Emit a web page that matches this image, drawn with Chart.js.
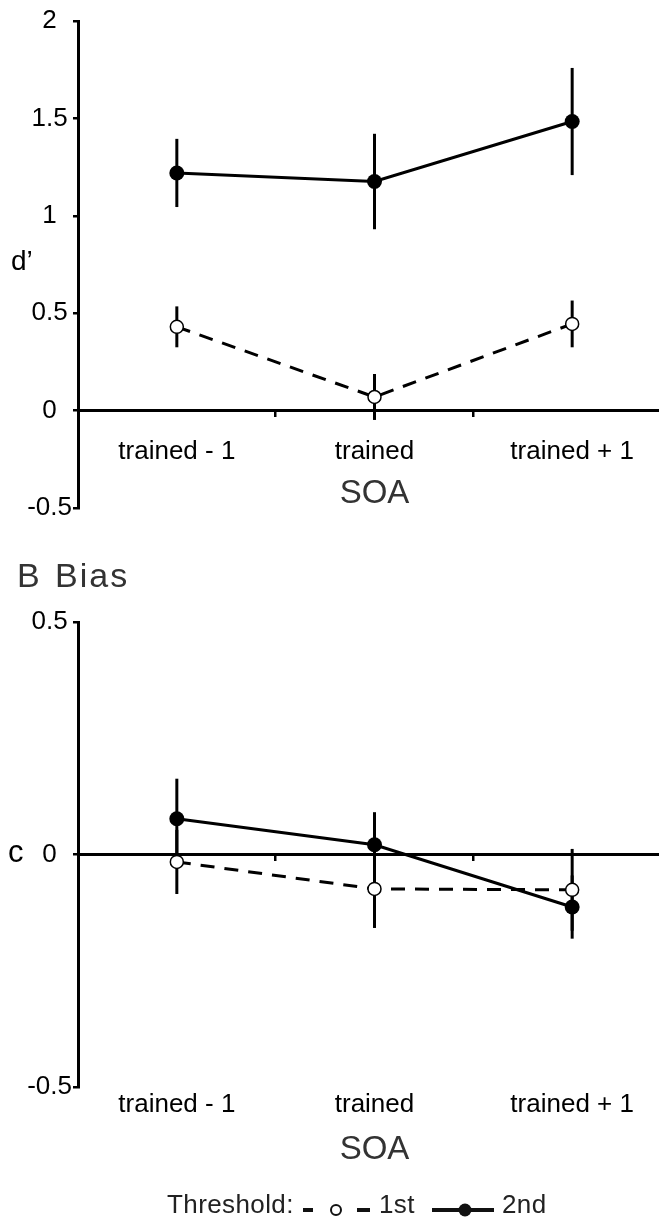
<!DOCTYPE html>
<html>
<head>
<meta charset="utf-8">
<script src="https://cdn.jsdelivr.net/npm/chart.js@4"></script>
<style>
  html, body { margin: 0; padding: 0; background: #fff; overflow: hidden; width: 659px; height: 1223px; }
  .wrap { position: relative; width: 659px; height: 1223px; overflow: hidden; }
  canvas { position: absolute; left: 0; }
  .lbl { position: absolute; font-family: "Liberation Sans", Arial, sans-serif; color: #000; white-space: nowrap; line-height: 1; }
</style>
</head>
<body>
<div class="wrap">
  <canvas id="chartA" width="680" height="540" style="top:0px"></canvas>
  <canvas id="chartB" width="680" height="663" style="top:560px"></canvas>

  <div class="lbl" style="left:11px; top:247px; font-size:28px;">d’</div>
  <div class="lbl" style="left:17px; top:558px; font-size:34px; color:#333; letter-spacing:2px;">B</div>
  <div class="lbl" style="left:55px; top:558px; font-size:34px; color:#333; letter-spacing:2px;">Bias</div>
  <div class="lbl" style="left:8px; top:836px; font-size:31px;">c</div>

  <!-- legend -->
  <div class="lbl" style="left:167px; top:1191px; font-size:26px; color:#222; letter-spacing:0.4px;">Threshold:</div>
  <div class="lbl" style="left:379px; top:1191px; font-size:26px; color:#222; letter-spacing:0.4px;">1st</div>
  <div class="lbl" style="left:502px; top:1191px; font-size:26px; color:#222; letter-spacing:0.4px;">2nd</div>
  <svg style="position:absolute; left:0; top:1195px;" width="659" height="28">
    <line x1="303" y1="15" x2="313" y2="15" stroke="#111" stroke-width="4"/>
    <circle cx="336" cy="15" r="5" fill="#fff" stroke="#111" stroke-width="2"/>
    <line x1="357" y1="15" x2="370" y2="15" stroke="#111" stroke-width="4"/>
    <line x1="432" y1="15" x2="494" y2="15" stroke="#111" stroke-width="4"/>
    <circle cx="465" cy="15" r="6.5" fill="#111"/>
  </svg>
</div>

<script>
// SOA conditions on the x axis
const categories = ['trained - 1', 'trained', 'trained + 1'];

// A: sensitivity d' (mean and error half-length) per threshold
const dPrimeFirst = [0.43, 0.07, 0.445];
const dPrimeFirstErr = [0.105, 0.118, 0.12];
const dPrimeSecond = [1.22, 1.176, 1.484];
const dPrimeSecondErr = [0.175, 0.245, 0.275];

// B: response bias c (mean and error half-length) per threshold
const biasFirst = [-0.016, -0.074, -0.076];
const biasFirstErr = [0.069, 0.084, 0.088];
const biasSecond = [0.077, 0.021, -0.113];
const biasSecondErr = [0.086, 0.07, 0.068];

// y tick values
const dPrimeTicks = [-0.5, 0, 0.5, 1, 1.5, 2];
const biasTicks = [-0.5, 0, 0.5];

const thresholdNames = ['1st', '2nd'];

const FONT = '"Liberation Sans", Arial, sans-serif';

// vertical error bars, drawn under the lines and markers
const errorBars = {
  id: 'errorBars',
  beforeDatasetsDraw(chart) {
    const { ctx } = chart;
    const y = chart.scales.y;
    ctx.save();
    ctx.strokeStyle = '#000';
    ctx.lineWidth = 3;
    ctx.lineCap = 'butt';
    chart.data.datasets.forEach((ds, i) => {
      const meta = chart.getDatasetMeta(i);
      meta.data.forEach((pt, j) => {
        const v = ds.data[j];
        const e = ds.errors[j];
        ctx.beginPath();
        ctx.moveTo(pt.x, y.getPixelForValue(v + e));
        ctx.lineTo(pt.x, y.getPixelForValue(v - e));
        ctx.stroke();
      });
    });
    ctx.restore();
  }
};

function firstSeries(values, errors) {
  return {
    label: thresholdNames[0],
    data: values,
    errors: errors,
    borderColor: '#000',
    borderWidth: 3,
    borderDash: [14, 10],
    pointRadius: 6.5,
    pointBackgroundColor: '#fff',
    pointBorderColor: '#000',
    pointBorderWidth: 1.5,
    tension: 0
  };
}

function secondSeries(values, errors) {
  return {
    label: thresholdNames[1],
    data: values,
    errors: errors,
    borderColor: '#000',
    borderWidth: 3,
    pointRadius: 7.5,
    pointBackgroundColor: '#000',
    pointBorderColor: '#000',
    pointBorderWidth: 0,
    tension: 0
  };
}

function yScale(min, max, ticks, size) {
  return {
    type: 'linear',
    position: 'left',
    min: min,
    max: max,
    afterBuildTicks: s => { s.ticks = ticks.map(v => ({ value: v })); },
    afterFit: s => { s.width = 78; },
    border: { display: true, color: '#000', width: 3 },
    grid: { display: true, drawOnChartArea: false, drawTicks: true, tickLength: 5, color: '#000', lineWidth: 2.5 },
    ticks: { color: '#000', font: { family: FONT, size: size }, padding: 1, crossAlign: 'center', callback: v => String(v) }
  };
}

const xTickFont = { family: FONT, size: 26 };
function xTitle(padTop) {
  return { display: true, text: 'SOA', color: '#333', font: { family: FONT, size: 33 }, padding: { top: padTop, bottom: 0 } };
}

const common = {
  responsive: false,
  animation: false,
  events: [],
  plugins: { legend: { display: false }, tooltip: { enabled: false } }
};

// A: sensitivity
new Chart(document.getElementById('chartA'), {
  type: 'line',
  data: {
    labels: categories,
    datasets: [firstSeries(dPrimeFirst, dPrimeFirstErr), secondSeries(dPrimeSecond, dPrimeSecondErr)]
  },
  options: Object.assign({}, common, {
    layout: { padding: { top: 21, bottom: 32, left: 0, right: 9 } },
    scales: {
      x: {
        type: 'category',
        position: { y: 0 },
        offset: true,
        border: { display: true, color: '#000', width: 3 },
        grid: { offset: true, drawOnChartArea: false, drawTicks: true, tickLength: 5, color: '#000', lineWidth: 2.5 },
        ticks: { color: '#000', font: xTickFont, padding: 21, maxRotation: 0, autoSkip: false },
        title: xTitle(-15)
      },
      y: yScale(-0.5, 2, dPrimeTicks, 26)
    }
  }),
  plugins: [errorBars]
});

// B: bias
new Chart(document.getElementById('chartB'), {
  type: 'line',
  data: {
    labels: categories,
    datasets: [firstSeries(biasFirst, biasFirstErr), secondSeries(biasSecond, biasSecondErr)]
  },
  options: Object.assign({}, common, {
    layout: { padding: { top: 62, bottom: 136, left: 0, right: 9 } },
    scales: {
      x: {
        type: 'category',
        position: { y: -0.5 },
        offset: true,
        border: { display: false },
        grid: { display: false, drawTicks: false },
        ticks: { color: '#000', font: xTickFont, padding: 2, maxRotation: 0, autoSkip: false },
        title: xTitle(8)
      },
      x2: {
        type: 'category',
        position: { y: 0 },
        offset: true,
        border: { display: true, color: '#000', width: 3 },
        grid: { offset: true, drawOnChartArea: false, drawTicks: true, tickLength: 5, color: '#000', lineWidth: 2.5 },
        ticks: { display: false }
      },
      y: yScale(-0.5, 0.5, biasTicks, 26)
    }
  }),
  plugins: [errorBars]
});
</script>
</body>
</html>
